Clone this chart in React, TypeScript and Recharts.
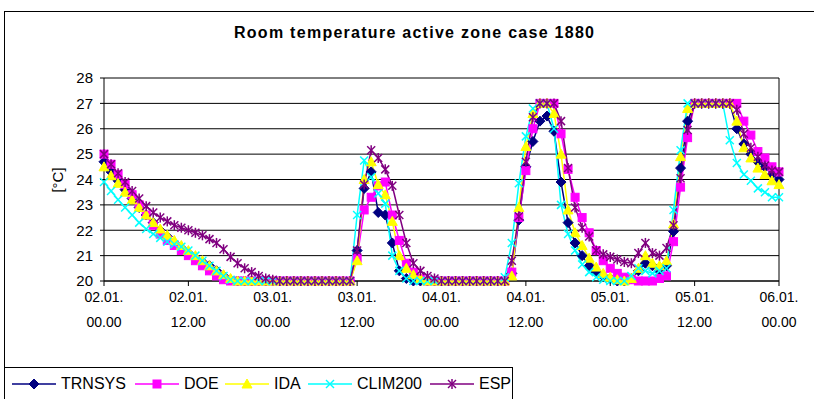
import React from 'react'
import { LineChart, Line, XAxis, YAxis, CartesianGrid, ReferenceLine } from 'recharts'

// hours since 02.01. 00.00
const hours = Array.from({ length: 97 }, (_, i) => i)

const tickHours = [0, 12, 24, 36, 48, 60, 72, 84, 96]
const tickDates = ['02.01.', '02.01.', '03.01.', '03.01.', '04.01.', '04.01.', '05.01.', '05.01.', '06.01.']
const tickTimes = ['00.00', '12.00', '00.00', '12.00', '00.00', '12.00', '00.00', '12.00', '00.00']
const yTicks = [20, 21, 22, 23, 24, 25, 26, 27, 28]

const trnsys = [
  24.7, 24.3, 23.95, 23.6, 23.25, 22.9, 22.6, 22.3, 22.0, 21.75,
  21.5, 21.3, 21.1, 20.9, 20.75, 20.6, 20.4, 20.2, 20.05, 20.0,
  20, 20, 20, 20, 20, 20, 20, 20, 20, 20,
  20, 20, 20, 20, 20, 20, 21.2, 23.65, 24.3, 22.7,
  22.6, 21.5, 20.4, 20.1, 20, 20, 20, 20, 20, 20,
  20, 20, 20, 20, 20, 20, 20, 20, 20.3, 22.4,
  24.5, 25.5, 26.3, 26.5, 25.9, 23.9, 22.3, 21.5, 21.0, 20.6,
  20.35, 20.2, 20.1, 20.0, 20.0, 20.1, 20.4, 20.7, 20.6, 20.4,
  20.6, 21.95, 24.45, 26.3, 27, 27, 27, 27, 27, 27,
  26.0, 25.4, 25.0, 24.7, 24.5, 24.2, 24.0,
]

const doe = [
  25.0, 24.6, 24.2, 23.8, 23.4, 23.0, 22.6, 22.2, 21.85, 21.6,
  21.4, 21.2, 21.0, 20.8, 20.6, 20.4, 20.2, 20.05, 20.0, 20.0,
  20, 20, 20, 20, 20, 20, 20, 20, 20, 20,
  20, 20, 20, 20, 20, 20, 20.9, 22.8, 23.3, 23.75,
  23.9, 22.6, 21.6, 20.7, 20.35, 20.1, 20, 20, 20, 20,
  20, 20, 20, 20, 20, 20, 20, 20, 20.35, 22.5,
  24.35, 26.0, 27, 27, 27, 25.8, 24.4, 23.3, 22.5, 21.9,
  21.2, 20.8, 20.5, 20.3, 20.15, 20.05, 20, 20, 20, 20.1,
  20.2, 21.55, 23.7, 25.65, 27, 27, 27, 27, 27, 27,
  27, 26.3, 25.75, 25.1, 24.85, 24.5, 24.3,
]

const ida = [
  24.5, 24.15, 23.85, 23.5, 23.2, 22.9, 22.6, 22.3, 22.05, 21.8,
  21.6, 21.4, 21.2, 21.0, 20.8, 20.6, 20.4, 20.25, 20.1, 20.0,
  20, 20, 20, 20, 20, 20, 20, 20, 20, 20,
  20, 20, 20, 20, 20, 20, 20.8, 24.0, 24.7, 23.8,
  23.4, 22.35, 21.0, 20.5, 20.25, 20.1, 20, 20, 20, 20,
  20, 20, 20, 20, 20, 20, 20, 20, 20.2, 22.9,
  25.3, 26.6, 27, 27, 26.6, 25.0, 22.8, 21.9, 21.4, 20.9,
  20.55, 20.3, 20.15, 20.05, 20, 20.1, 20.5, 21.0, 20.7, 20.6,
  20.8, 22.25, 24.9, 26.8, 27, 27, 27, 27, 27, 27,
  26.3, 25.25, 24.85, 24.45, 24.2, 23.95, 23.8,
]

const clim200 = [
  23.9, 23.55, 23.2, 22.9, 22.6, 22.3, 22.05, 21.85, 21.7, 21.55,
  21.45, 21.35, 21.2, 21.0, 20.8, 20.6, 20.4, 20.2, 20.05, 20.0,
  20, 20, 20, 20, 20, 20, 20, 20, 20, 20,
  20, 20, 20, 20, 20, 20, 22.6, 24.75, 24.1, 23.45,
  23.05, 21.0, 20.4, 20.1, 20, 20, 20, 20, 20, 20,
  20, 20, 20, 20, 20, 20, 20, 20.15, 21.5, 23.85,
  25.7, 26.8, 27, 27, 26.0, 23.0, 21.85, 21.2, 20.65, 20.35,
  20.15, 20.05, 20, 20, 20, 20.2, 20.5, 20.4, 20.3, 20.4,
  20.5, 22.8, 25.15, 27, 27, 27, 27, 27, 27, 25.55,
  24.65, 24.2, 23.95, 23.65, 23.5, 23.3, 23.3,
]

const esp = [
  25.0, 24.6, 24.25, 23.9, 23.55, 23.25, 22.95, 22.7, 22.5, 22.35,
  22.2, 22.1, 22.0, 21.9, 21.8, 21.65, 21.5, 21.25, 20.95, 20.7,
  20.5, 20.35, 20.2, 20.1, 20.05, 20, 20, 20, 20, 20,
  20, 20, 20, 20, 20, 20, 21.2, 23.8, 25.15, 24.85,
  24.4, 23.75, 22.6, 21.5, 20.7, 20.4, 20.2, 20.1, 20, 20,
  20, 20, 20, 20, 20, 20, 20, 20, 20.8, 22.55,
  24.7, 26.45, 27, 27, 27, 26.3, 24.45, 22.9, 22.1, 21.75,
  21.2, 21.05, 20.95, 20.85, 20.75, 20.7, 21.1, 21.5, 21.1, 21.0,
  21.3, 22.2, 24.05, 25.95, 27, 27, 27, 27, 27, 27,
  26.75, 25.8, 25.25, 24.9, 24.55, 24.35, 24.3,
]

const data = hours.map((h, i) => ({
  h,
  trnsys: trnsys[i],
  doe: doe[i],
  ida: ida[i],
  clim200: clim200[i],
  esp: esp[i],
}))

const FONT = 'Arial, "Liberation Sans", sans-serif'

type Mk = { cx?: number; cy?: number; color: string }

function Marker({ kind, cx = 0, cy = 0, color }: Mk & { kind: string }) {
  if (kind === 'diamond')
    return <polygon points={`${cx},${cy - 5} ${cx + 5},${cy} ${cx},${cy + 5} ${cx - 5},${cy}`} fill={color} stroke={color} />
  if (kind === 'square') return <rect x={cx - 4} y={cy - 4} width={8} height={8} fill={color} stroke={color} />
  if (kind === 'triangle')
    return <polygon points={`${cx},${cy - 5} ${cx + 5},${cy + 4} ${cx - 5},${cy + 4}`} fill={color} stroke={color} />
  if (kind === 'x')
    return (
      <g stroke={color} strokeWidth={1.5}>
        <line x1={cx - 4} y1={cy - 4} x2={cx + 4} y2={cy + 4} />
        <line x1={cx - 4} y1={cy + 4} x2={cx + 4} y2={cy - 4} />
      </g>
    )
  return (
    <g stroke={color} strokeWidth={1.5}>
      <line x1={cx - 4} y1={cy - 4} x2={cx + 4} y2={cy + 4} />
      <line x1={cx - 4} y1={cy + 4} x2={cx + 4} y2={cy - 4} />
      <line x1={cx} y1={cy - 5} x2={cx} y2={cy + 5} />
    </g>
  )
}

const seriesDefs = [
  { key: 'trnsys', name: 'TRNSYS', color: '#000080', kind: 'diamond' },
  { key: 'doe', name: 'DOE', color: '#FF00FF', kind: 'square' },
  { key: 'ida', name: 'IDA', color: '#FFFF00', kind: 'triangle' },
  { key: 'clim200', name: 'CLIM200', color: '#00FFFF', kind: 'x' },
  { key: 'esp', name: 'ESP', color: '#800080', kind: 'star' },
]

function XTick(props: any) {
  const { x, y, payload } = props
  const i = tickHours.indexOf(payload.value)
  return (
    <g>
      <text x={x} y={y + 14} textAnchor="middle" fontSize={14} fontFamily={FONT} fill="#000">
        {tickDates[i]}
      </text>
      <text x={x} y={y + 39} textAnchor="middle" fontSize={14} fontFamily={FONT} fill="#000">
        {tickTimes[i]}
      </text>
    </g>
  )
}

export default function App() {
  return (
    <div style={{ position: 'absolute', left: 0, top: 0, width: 814, height: 399, overflow: 'hidden', background: '#fff' }}>
      <div style={{ position: 'absolute', left: 4, top: 11, width: 900, height: 500, border: '1px solid #000' }} />
      <svg style={{ position: 'absolute', left: 0, top: 0 }} width={814} height={60}>
        <text x={414} y={38} textAnchor="middle" fontSize={16} fontWeight="bold" fontFamily={FONT} textLength={360} lengthAdjust="spacing">
          Room temperature active zone case 1880
        </text>
      </svg>
      <div style={{ position: 'absolute', left: 0, top: 0 }}>
        <LineChart width={814} height={399} data={data} margin={{ top: 78, right: 35, bottom: 68, left: 0 }}>
          <CartesianGrid vertical={false} stroke="#000" />
          <XAxis
            dataKey="h"
            type="number"
            domain={[0, 96]}
            ticks={tickHours}
            interval={0}
            height={50}
            tick={<XTick />}
            tickSize={5}
            axisLine={{ stroke: '#000' }}
            tickLine={{ stroke: '#000' }}
          />
          <YAxis
            domain={[20, 28]}
            ticks={yTicks}
            interval={0}
            width={104}
            tickSize={4}
            tickMargin={7}
            axisLine={{ stroke: '#000' }}
            tickLine={{ stroke: '#000' }}
            tick={{ fill: '#000', fontSize: 15, fontFamily: FONT }}
          />
          <ReferenceLine x={96} stroke="#000" />
          {seriesDefs.map((s) => (
            <Line
              key={s.key}
              dataKey={s.key}
              name={s.name}
              type="linear"
              stroke={s.color}
              strokeWidth={1.5}
              isAnimationActive={false}
              dot={(p: any) => <Marker key={`${s.key}-${p.index}`} kind={s.kind} cx={p.cx} cy={p.cy} color={s.color} />}
              activeDot={false}
            />
          ))}
        </LineChart>
      </div>
      <div
        style={{
          position: 'absolute',
          left: 50,
          top: 165,
          width: 20,
          height: 30,
        }}
      >
        <svg width={20} height={30}>
          <text x={0} y={0} transform="translate(13,15) rotate(-90)" textAnchor="middle" fontSize={15} fontFamily={FONT}>
            [°C]
          </text>
        </svg>
      </div>
      <div
        style={{
          position: 'absolute',
          left: 4,
          top: 367,
          width: 507,
          height: 60,
          border: '1px solid #000',
          background: '#fff',
        }}
      />
      {seriesDefs.map((s, i) => {
        const lefts = [12, 135, 225, 308, 430]
        return (
          <div key={s.key} style={{ position: 'absolute', left: lefts[i], top: 375, display: 'flex', alignItems: 'center', height: 18 }}>
            <svg width={44} height={14}>
              <line x1={0} y1={7} x2={44} y2={7} stroke={s.color} strokeWidth={1.5} />
              <Marker kind={s.kind} cx={22} cy={7} color={s.color} />
            </svg>
            <span style={{ fontFamily: FONT, fontSize: 16, marginLeft: 5, color: '#000' }}>{s.name}</span>
          </div>
        )
      })}
    </div>
  )
}
